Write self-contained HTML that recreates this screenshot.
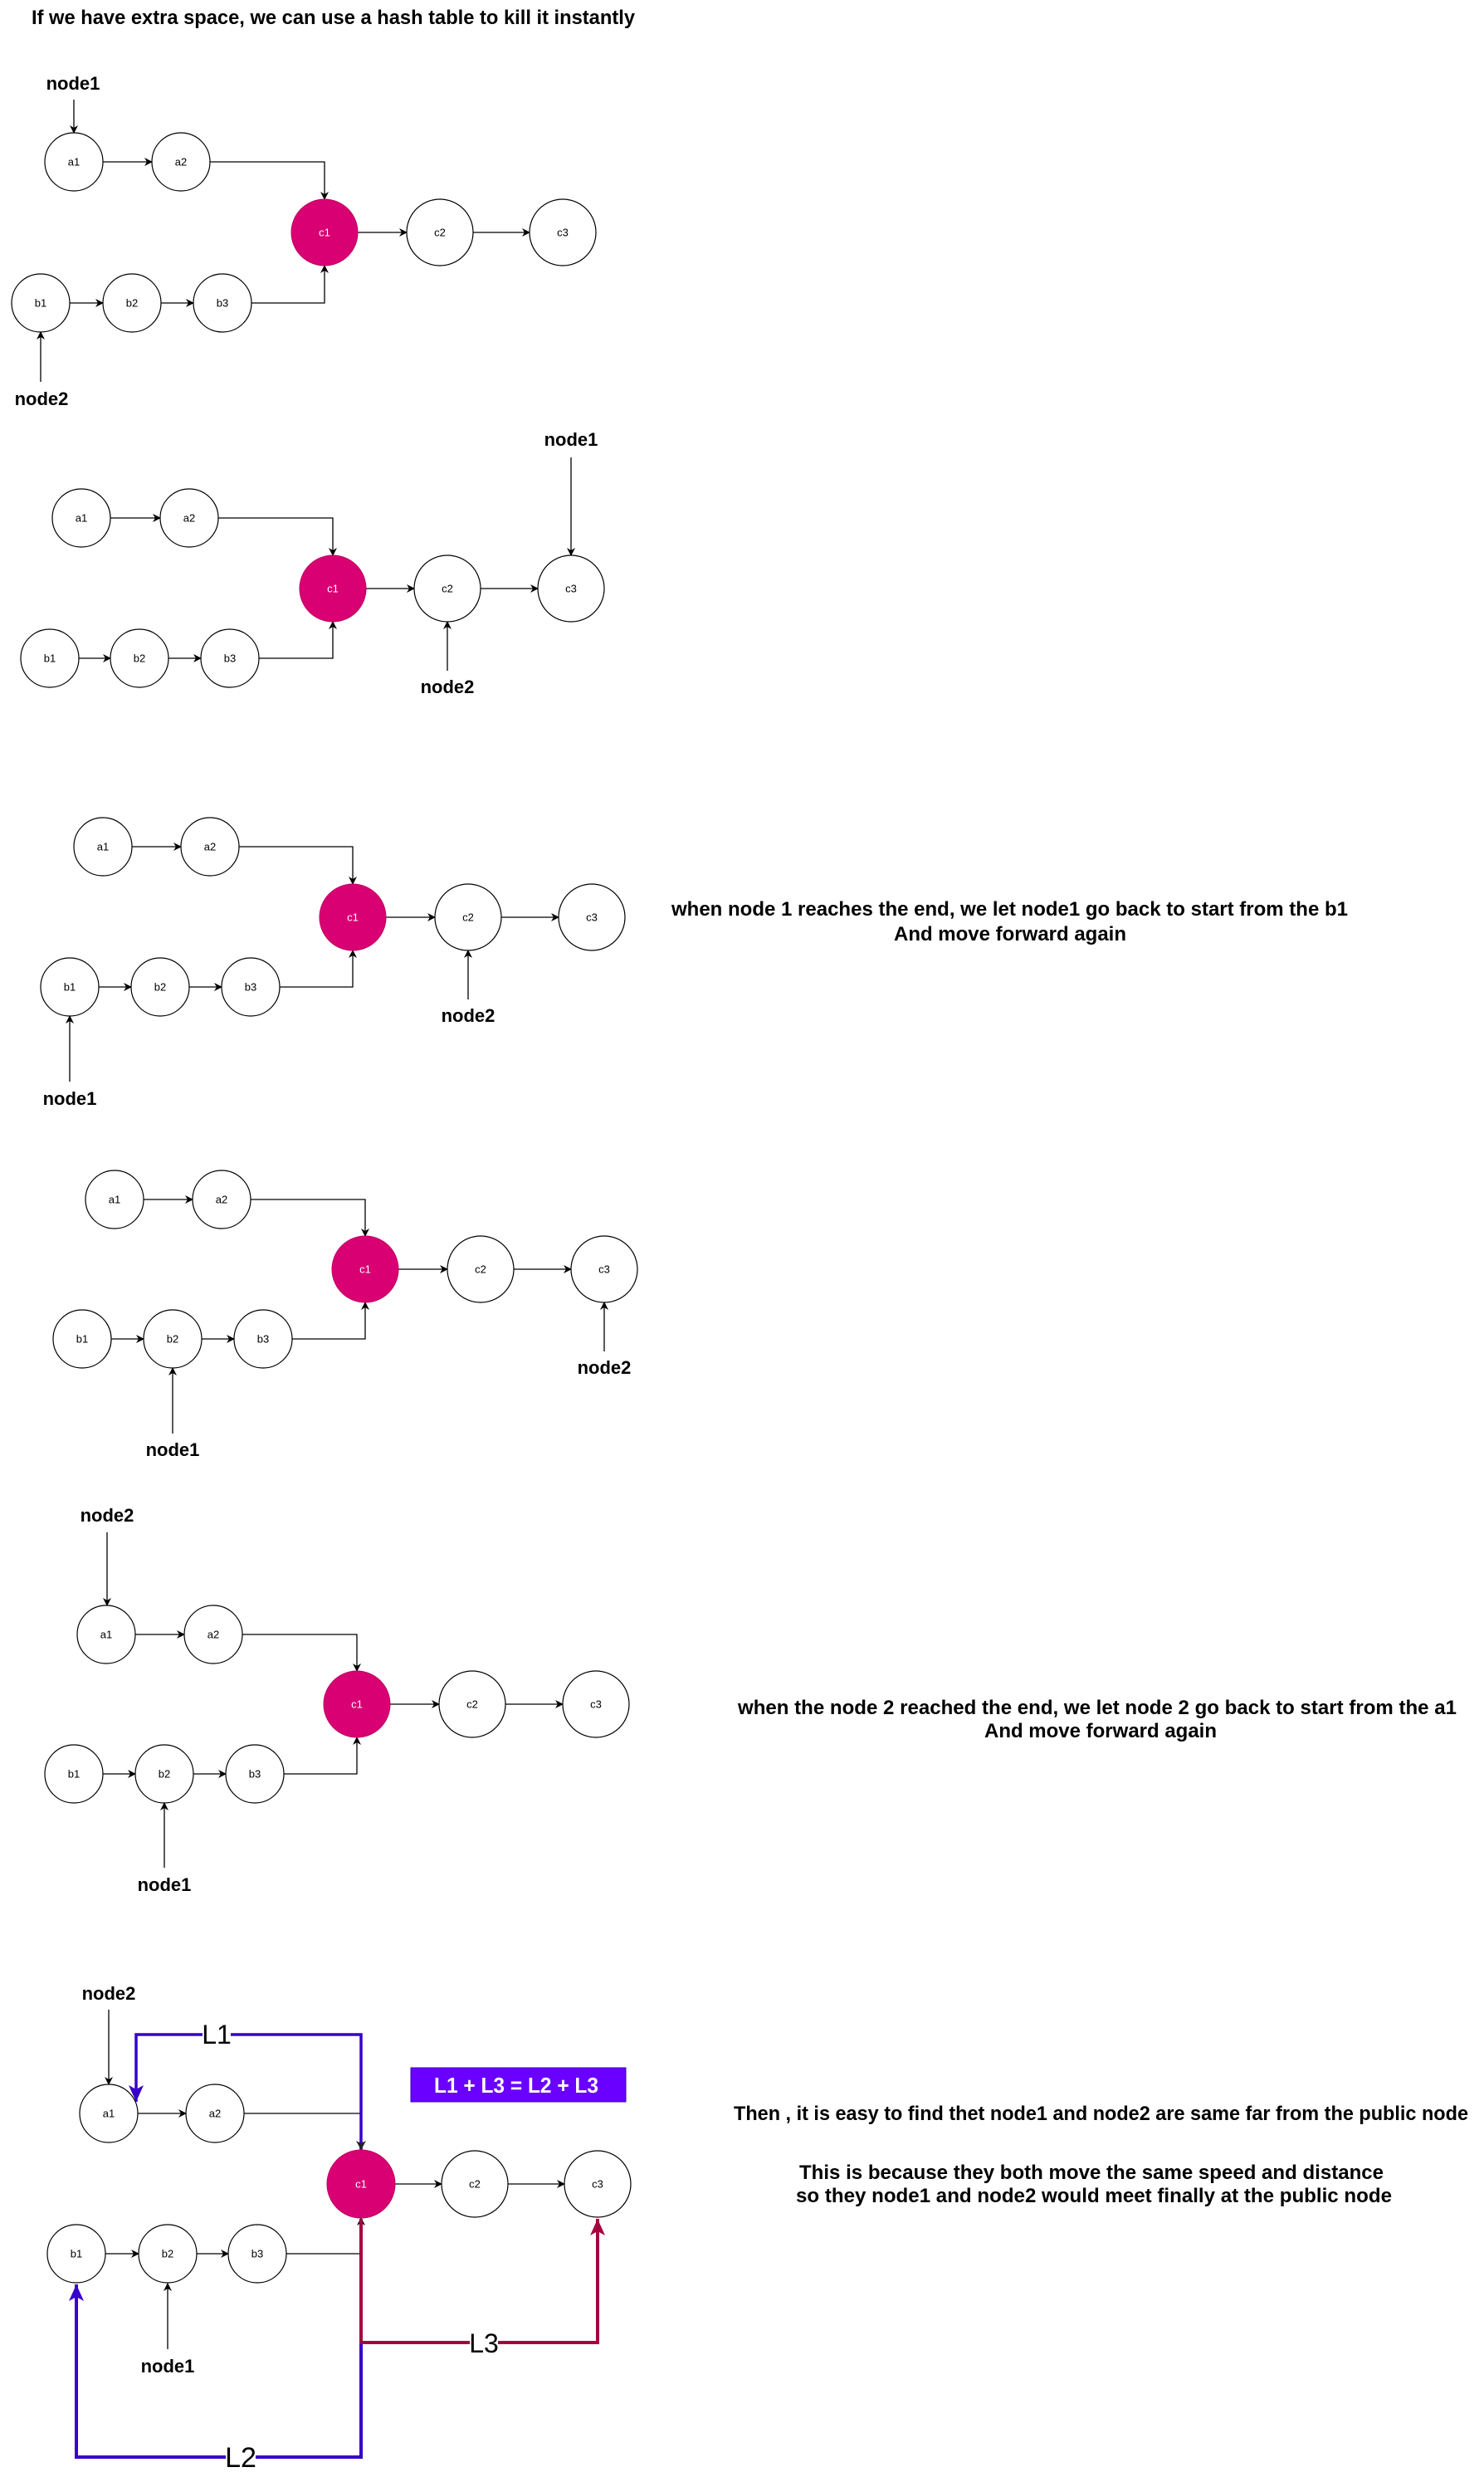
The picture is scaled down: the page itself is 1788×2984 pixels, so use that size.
<!DOCTYPE html>
<html><head><meta charset="utf-8"><style>
html,body{margin:0;padding:0;background:#fff}
svg{display:block}
text{font-family:"Liberation Sans",Arial,sans-serif}
.n{font-size:13px;text-anchor:middle;dominant-baseline:central}
.w{fill:#fff}
.lb{font-size:22px;font-weight:bold;text-anchor:middle}
.t{font-size:24px;font-weight:bold}
.e{fill:none;stroke:#000;stroke-width:1.3}
.o{fill:#fff;stroke:#000;stroke-width:1.2}
.r{fill:#d80073;stroke:#c0005e;stroke-width:1}
</style></head><body>
<svg width="1788" height="2984" viewBox="0 0 1788 2984" xmlns="http://www.w3.org/2000/svg">
<defs>
<marker id="k" markerWidth="10" markerHeight="10" refX="9" refY="5" orient="auto" markerUnits="userSpaceOnUse"><path d="M0,0 L10,5 L0,10 L3,5 z" fill="#000"/></marker>
<marker id="bl" markerWidth="22" markerHeight="22" refX="20" refY="11" orient="auto" markerUnits="userSpaceOnUse"><path d="M0,2 L20,11 L0,20 L5,11 z" fill="#3700cc"/></marker>
<marker id="bs" markerWidth="12" markerHeight="12" refX="10" refY="6" orient="auto" markerUnits="userSpaceOnUse"><path d="M0,0 L11,6 L0,12 L3,6 z" fill="#222"/></marker>
<marker id="rd" markerWidth="22" markerHeight="22" refX="20" refY="11" orient="auto" markerUnits="userSpaceOnUse"><path d="M0,2 L20,11 L0,20 L5,11 z" fill="#a50040"/></marker>
</defs>

<text class="t" x="38" y="29" textLength="727" lengthAdjust="spacingAndGlyphs">If we have extra space, we can use a hash table to kill it instantly</text>

<!-- D1 -->
<g>
<path class="e" d="M124,195 H183" marker-end="url(#k)"/>
<path class="e" d="M253,195 H391 V240" marker-end="url(#k)"/>
<path class="e" d="M431,280 H490" marker-end="url(#k)"/>
<path class="e" d="M570,280 H638" marker-end="url(#k)"/>
<path class="e" d="M84,365 H124" marker-end="url(#k)"/>
<path class="e" d="M194,365 H233" marker-end="url(#k)"/>
<path class="e" d="M303,365 H391 V320" marker-end="url(#k)"/>
<path class="e" d="M89,120 V160" marker-end="url(#k)"/>
<path class="e" d="M49,460 V400" marker-end="url(#k)"/>
<circle class="o" cx="89" cy="195" r="35"/><text class="n" x="89" y="195">a1</text>
<circle class="o" cx="218" cy="195" r="35"/><text class="n" x="218" y="195">a2</text>
<circle class="r" cx="391" cy="280" r="40"/><text class="n w" x="391" y="280">c1</text>
<circle class="o" cx="530" cy="280" r="40"/><text class="n" x="530" y="280">c2</text>
<circle class="o" cx="678" cy="280" r="40"/><text class="n" x="678" y="280">c3</text>
<circle class="o" cx="49" cy="365" r="35"/><text class="n" x="49" y="365">b1</text>
<circle class="o" cx="159" cy="365" r="35"/><text class="n" x="159" y="365">b2</text>
<circle class="o" cx="268" cy="365" r="35"/><text class="n" x="268" y="365">b3</text>
<text class="lb" x="88" y="108">node1</text>
<text class="lb" x="50" y="488">node2</text>
</g>

<!-- D2 -->
<g>
<path class="e" d="M133,624 H193" marker-end="url(#k)"/>
<path class="e" d="M263,624 H401 V669" marker-end="url(#k)"/>
<path class="e" d="M441,709 H499" marker-end="url(#k)"/>
<path class="e" d="M579,709 H648" marker-end="url(#k)"/>
<path class="e" d="M95,793 H133" marker-end="url(#k)"/>
<path class="e" d="M203,793 H242" marker-end="url(#k)"/>
<path class="e" d="M312,793 H401 V749" marker-end="url(#k)"/>
<path class="e" d="M688,551 V669" marker-end="url(#k)"/>
<path class="e" d="M539,808 V749" marker-end="url(#k)"/>
<circle class="o" cx="98" cy="624" r="35"/><text class="n" x="98" y="624">a1</text>
<circle class="o" cx="228" cy="624" r="35"/><text class="n" x="228" y="624">a2</text>
<circle class="r" cx="401" cy="709" r="40"/><text class="n w" x="401" y="709">c1</text>
<circle class="o" cx="539" cy="709" r="40"/><text class="n" x="539" y="709">c2</text>
<circle class="o" cx="688" cy="709" r="40"/><text class="n" x="688" y="709">c3</text>
<circle class="o" cx="60" cy="793" r="35"/><text class="n" x="60" y="793">b1</text>
<circle class="o" cx="168" cy="793" r="35"/><text class="n" x="168" y="793">b2</text>
<circle class="o" cx="277" cy="793" r="35"/><text class="n" x="277" y="793">b3</text>
<text class="lb" x="688" y="537">node1</text>
<text class="lb" x="539" y="835">node2</text>
</g>

<!-- D3 -->
<g>
<path class="e" d="M159,1020 H218" marker-end="url(#k)"/>
<path class="e" d="M288,1020 H425 V1065" marker-end="url(#k)"/>
<path class="e" d="M465,1105 H524" marker-end="url(#k)"/>
<path class="e" d="M604,1105 H673" marker-end="url(#k)"/>
<path class="e" d="M119,1189 H158" marker-end="url(#k)"/>
<path class="e" d="M228,1189 H267" marker-end="url(#k)"/>
<path class="e" d="M337,1189 H425 V1145" marker-end="url(#k)"/>
<path class="e" d="M84,1303 V1224" marker-end="url(#k)"/>
<path class="e" d="M564,1204 V1145" marker-end="url(#k)"/>
<circle class="o" cx="124" cy="1020" r="35"/><text class="n" x="124" y="1020">a1</text>
<circle class="o" cx="253" cy="1020" r="35"/><text class="n" x="253" y="1020">a2</text>
<circle class="r" cx="425" cy="1105" r="40"/><text class="n w" x="425" y="1105">c1</text>
<circle class="o" cx="564" cy="1105" r="40"/><text class="n" x="564" y="1105">c2</text>
<circle class="o" cx="713" cy="1105" r="40"/><text class="n" x="713" y="1105">c3</text>
<circle class="o" cx="84" cy="1189" r="35"/><text class="n" x="84" y="1189">b1</text>
<circle class="o" cx="193" cy="1189" r="35"/><text class="n" x="193" y="1189">b2</text>
<circle class="o" cx="302" cy="1189" r="35"/><text class="n" x="302" y="1189">b3</text>
<text class="lb" x="84" y="1331">node1</text>
<text class="lb" x="564" y="1231">node2</text>
</g>
<text class="t" x="809" y="1103" textLength="815" lengthAdjust="spacingAndGlyphs">when node 1 reaches the end, we let node1 go back to start from the b1</text>
<text class="t" x="1217" y="1133" text-anchor="middle" textLength="280" lengthAdjust="spacingAndGlyphs">And move forward again</text>

<!-- D4 -->
<g>
<path class="e" d="M173,1445 H232" marker-end="url(#k)"/>
<path class="e" d="M302,1445 H440 V1489" marker-end="url(#k)"/>
<path class="e" d="M480,1529 H539" marker-end="url(#k)"/>
<path class="e" d="M619,1529 H688" marker-end="url(#k)"/>
<path class="e" d="M134,1613 H173" marker-end="url(#k)"/>
<path class="e" d="M243,1613 H282" marker-end="url(#k)"/>
<path class="e" d="M352,1613 H440 V1569" marker-end="url(#k)"/>
<path class="e" d="M208,1727 V1648" marker-end="url(#k)"/>
<path class="e" d="M728,1628 V1569" marker-end="url(#k)"/>
<circle class="o" cx="138" cy="1445" r="35"/><text class="n" x="138" y="1445">a1</text>
<circle class="o" cx="267" cy="1445" r="35"/><text class="n" x="267" y="1445">a2</text>
<circle class="r" cx="440" cy="1529" r="40"/><text class="n w" x="440" y="1529">c1</text>
<circle class="o" cx="579" cy="1529" r="40"/><text class="n" x="579" y="1529">c2</text>
<circle class="o" cx="728" cy="1529" r="40"/><text class="n" x="728" y="1529">c3</text>
<circle class="o" cx="99" cy="1613" r="35"/><text class="n" x="99" y="1613">b1</text>
<circle class="o" cx="208" cy="1613" r="35"/><text class="n" x="208" y="1613">b2</text>
<circle class="o" cx="317" cy="1613" r="35"/><text class="n" x="317" y="1613">b3</text>
<text class="lb" x="208" y="1754">node1</text>
<text class="lb" x="728" y="1655">node2</text>
</g>

<!-- D5 -->
<g>
<path class="e" d="M163,1969 H222" marker-end="url(#k)"/>
<path class="e" d="M292,1969 H430 V2013" marker-end="url(#k)"/>
<path class="e" d="M470,2053 H529" marker-end="url(#k)"/>
<path class="e" d="M609,2053 H678" marker-end="url(#k)"/>
<path class="e" d="M124,2137 H163" marker-end="url(#k)"/>
<path class="e" d="M233,2137 H272" marker-end="url(#k)"/>
<path class="e" d="M342,2137 H430 V2093" marker-end="url(#k)"/>
<path class="e" d="M129,1846 V1934" marker-end="url(#k)"/>
<path class="e" d="M198,2250 V2172" marker-end="url(#k)"/>
<circle class="o" cx="128" cy="1969" r="35"/><text class="n" x="128" y="1969">a1</text>
<circle class="o" cx="257" cy="1969" r="35"/><text class="n" x="257" y="1969">a2</text>
<circle class="r" cx="430" cy="2053" r="40"/><text class="n w" x="430" y="2053">c1</text>
<circle class="o" cx="569" cy="2053" r="40"/><text class="n" x="569" y="2053">c2</text>
<circle class="o" cx="718" cy="2053" r="40"/><text class="n" x="718" y="2053">c3</text>
<circle class="o" cx="89" cy="2137" r="35"/><text class="n" x="89" y="2137">b1</text>
<circle class="o" cx="198" cy="2137" r="35"/><text class="n" x="198" y="2137">b2</text>
<circle class="o" cx="307" cy="2137" r="35"/><text class="n" x="307" y="2137">b3</text>
<text class="lb" x="129" y="1833">node2</text>
<text class="lb" x="198" y="2278">node1</text>
</g>
<text class="t" x="889" y="2065" textLength="866" lengthAdjust="spacingAndGlyphs">when the node 2 reached the end, we let node 2 go back to start from the a1</text>
<text class="t" x="1326" y="2093" text-anchor="middle" textLength="280" lengthAdjust="spacingAndGlyphs">And move forward again</text>

<!-- D6 -->
<g>
<path class="e" d="M166,2546 H224" marker-end="url(#k)"/>
<path class="e" d="M294,2546 H435"/>
<path class="e" d="M476,2631 H532" marker-end="url(#k)"/>
<path class="e" d="M612,2631 H680" marker-end="url(#k)"/>
<path class="e" d="M127,2715 H167" marker-end="url(#k)"/>
<path class="e" d="M237,2715 H275" marker-end="url(#k)"/>
<path class="e" d="M345,2715 H435 V2672" marker-end="url(#k)"/>
<path class="e" d="M131,2421 V2511" marker-end="url(#k)"/>
<path class="e" d="M202,2830 V2751" marker-end="url(#k)"/>
<!-- L1 -->
<path d="M435,2590 V2451 H164 V2532" fill="none" stroke="#3700cc" stroke-width="3.5" marker-end="url(#bl)"/>
<path d="M435,2580 V2589" fill="none" stroke="#3700cc" stroke-width="3.5" marker-end="url(#bs)"/>
<!-- L2 -->
<path d="M435,2822 V2960 H92 V2752" fill="none" stroke="#3700cc" stroke-width="4" marker-end="url(#bl)"/>
<!-- L3 -->
<path d="M435,2673 V2822 H720 V2673" fill="none" stroke="#a50040" stroke-width="4" marker-end="url(#rd)"/>
<circle class="o" cx="131" cy="2546" r="35"/><text class="n" x="131" y="2546">a1</text>
<circle class="o" cx="259" cy="2546" r="35"/><text class="n" x="259" y="2546">a2</text>
<circle class="r" cx="435" cy="2631" r="41"/><text class="n w" x="435" y="2631">c1</text>
<circle class="o" cx="572" cy="2631" r="40"/><text class="n" x="572" y="2631">c2</text>
<circle class="o" cx="720" cy="2631" r="40"/><text class="n" x="720" y="2631">c3</text>
<circle class="o" cx="92" cy="2715" r="35"/><text class="n" x="92" y="2715">b1</text>
<circle class="o" cx="202" cy="2715" r="35"/><text class="n" x="202" y="2715">b2</text>
<circle class="o" cx="310" cy="2715" r="35"/><text class="n" x="310" y="2715">b3</text>
<text class="lb" x="131" y="2409">node2</text>
<text class="lb" x="202" y="2858">node1</text>
<rect x="244" y="2435" width="34" height="32" fill="#fff"/>
<text x="261" y="2462" font-size="32" text-anchor="middle">L1</text>
<rect x="272" y="2944" width="36" height="34" fill="#fff"/>
<text x="290" y="2972" font-size="34" text-anchor="middle">L2</text>
<rect x="566" y="2806" width="34" height="32" fill="#fff"/>
<text x="583" y="2834" font-size="32" text-anchor="middle">L3</text>
<rect x="495" y="2491" width="259" height="41" fill="#6a00ff" stroke="#3700cc" stroke-width="1"/>
<text x="523" y="2521" font-size="26" font-weight="bold" fill="#fff" textLength="198" lengthAdjust="spacingAndGlyphs">L1 + L3  = L2 + L3</text>
</g>
<text class="t" x="884" y="2554" textLength="885" lengthAdjust="spacingAndGlyphs">Then , it is easy to find thet node1 and node2 are same far from the public node</text>
<text class="t" x="963" y="2625" textLength="704" lengthAdjust="spacingAndGlyphs">This is because they both move the same speed and distance</text>
<text class="t" x="959" y="2653" textLength="718" lengthAdjust="spacingAndGlyphs">so they node1 and node2 would meet finally at the public node</text>
</svg>
</body></html>
